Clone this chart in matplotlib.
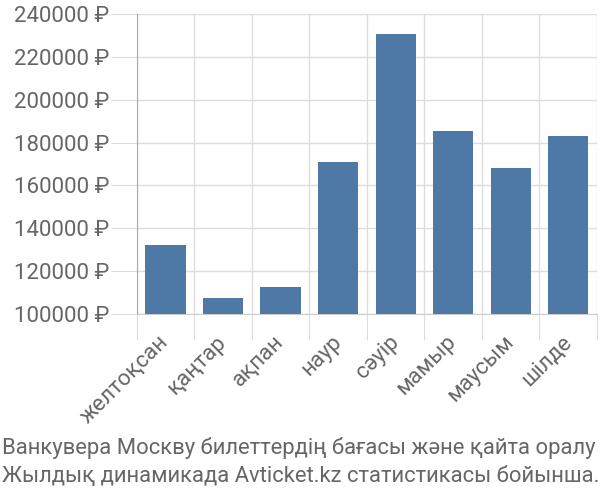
import matplotlib

matplotlib.use("Agg")
import matplotlib.pyplot as plt

plt.rcParams["font.family"] = ["Roboto", "DejaVu Sans"]

MONTHS = ["желтоқсан", "қаңтар", "ақпан", "наур", "сәуір", "мамыр", "маусым", "шілде"]
PRICES = [132000, 107500, 112400, 171100, 230700, 185500, 168100, 183100]
Y_TICKS = [100000, 120000, 140000, 160000, 180000, 200000, 220000, 240000]
CAPTION = [
    "Ванкувера Москву билеттердің бағасы және қайта оралу",
    "Жылдық динамикада Avticket.kz статистикасы бойынша.",
]

BAR_COLOR = "#4e79a7"
TEXT_COLOR = "#666666"
GRID_COLOR = "#dddddd"
FONT_SIZE = 16

fig = plt.figure(figsize=(6, 5), dpi=100)
ax = fig.add_axes([0.228, 0.372, 0.767, 0.6])

x = list(range(len(MONTHS)))
ax.bar(x, PRICES, width=0.7, color=BAR_COLOR, zorder=3)
ax.set_xlim(-0.5, len(MONTHS) - 0.5)
ax.set_ylim(100000, 240000)

ax.set_yticks(Y_TICKS)
ax.set_yticklabels([f"{v} ₽" for v in Y_TICKS])
ax.set_xticks([i - 0.5 for i in x] + [len(MONTHS) - 0.5], minor=False)
ax.set_xticklabels([])
ax.set_xticks(x, minor=True)
ax.set_xticklabels(MONTHS, minor=True, rotation=45, ha="right", va="center",
                   rotation_mode="anchor")

ax.grid(True, which="major", color=GRID_COLOR, lw=1, zorder=0)
ax.tick_params(axis="both", which="major", length=19, color=GRID_COLOR,
               labelsize=FONT_SIZE, labelcolor=TEXT_COLOR)
ax.tick_params(axis="x", which="minor", length=0, pad=18, labelsize=FONT_SIZE,
               labelcolor=TEXT_COLOR)
ax.tick_params(axis="y", pad=1)

for side in ("top", "right"):
    ax.spines[side].set_visible(False)
ax.spines["left"].set_color("#aaaaaa")
ax.spines["bottom"].set_color("#cccccc")

for i, line in enumerate(CAPTION):
    fig.text(0.004, 0.104 - i * 0.056, line, fontsize=15.8, color=TEXT_COLOR,
             ha="left", va="center")

fig.savefig("out.png", dpi=100)
